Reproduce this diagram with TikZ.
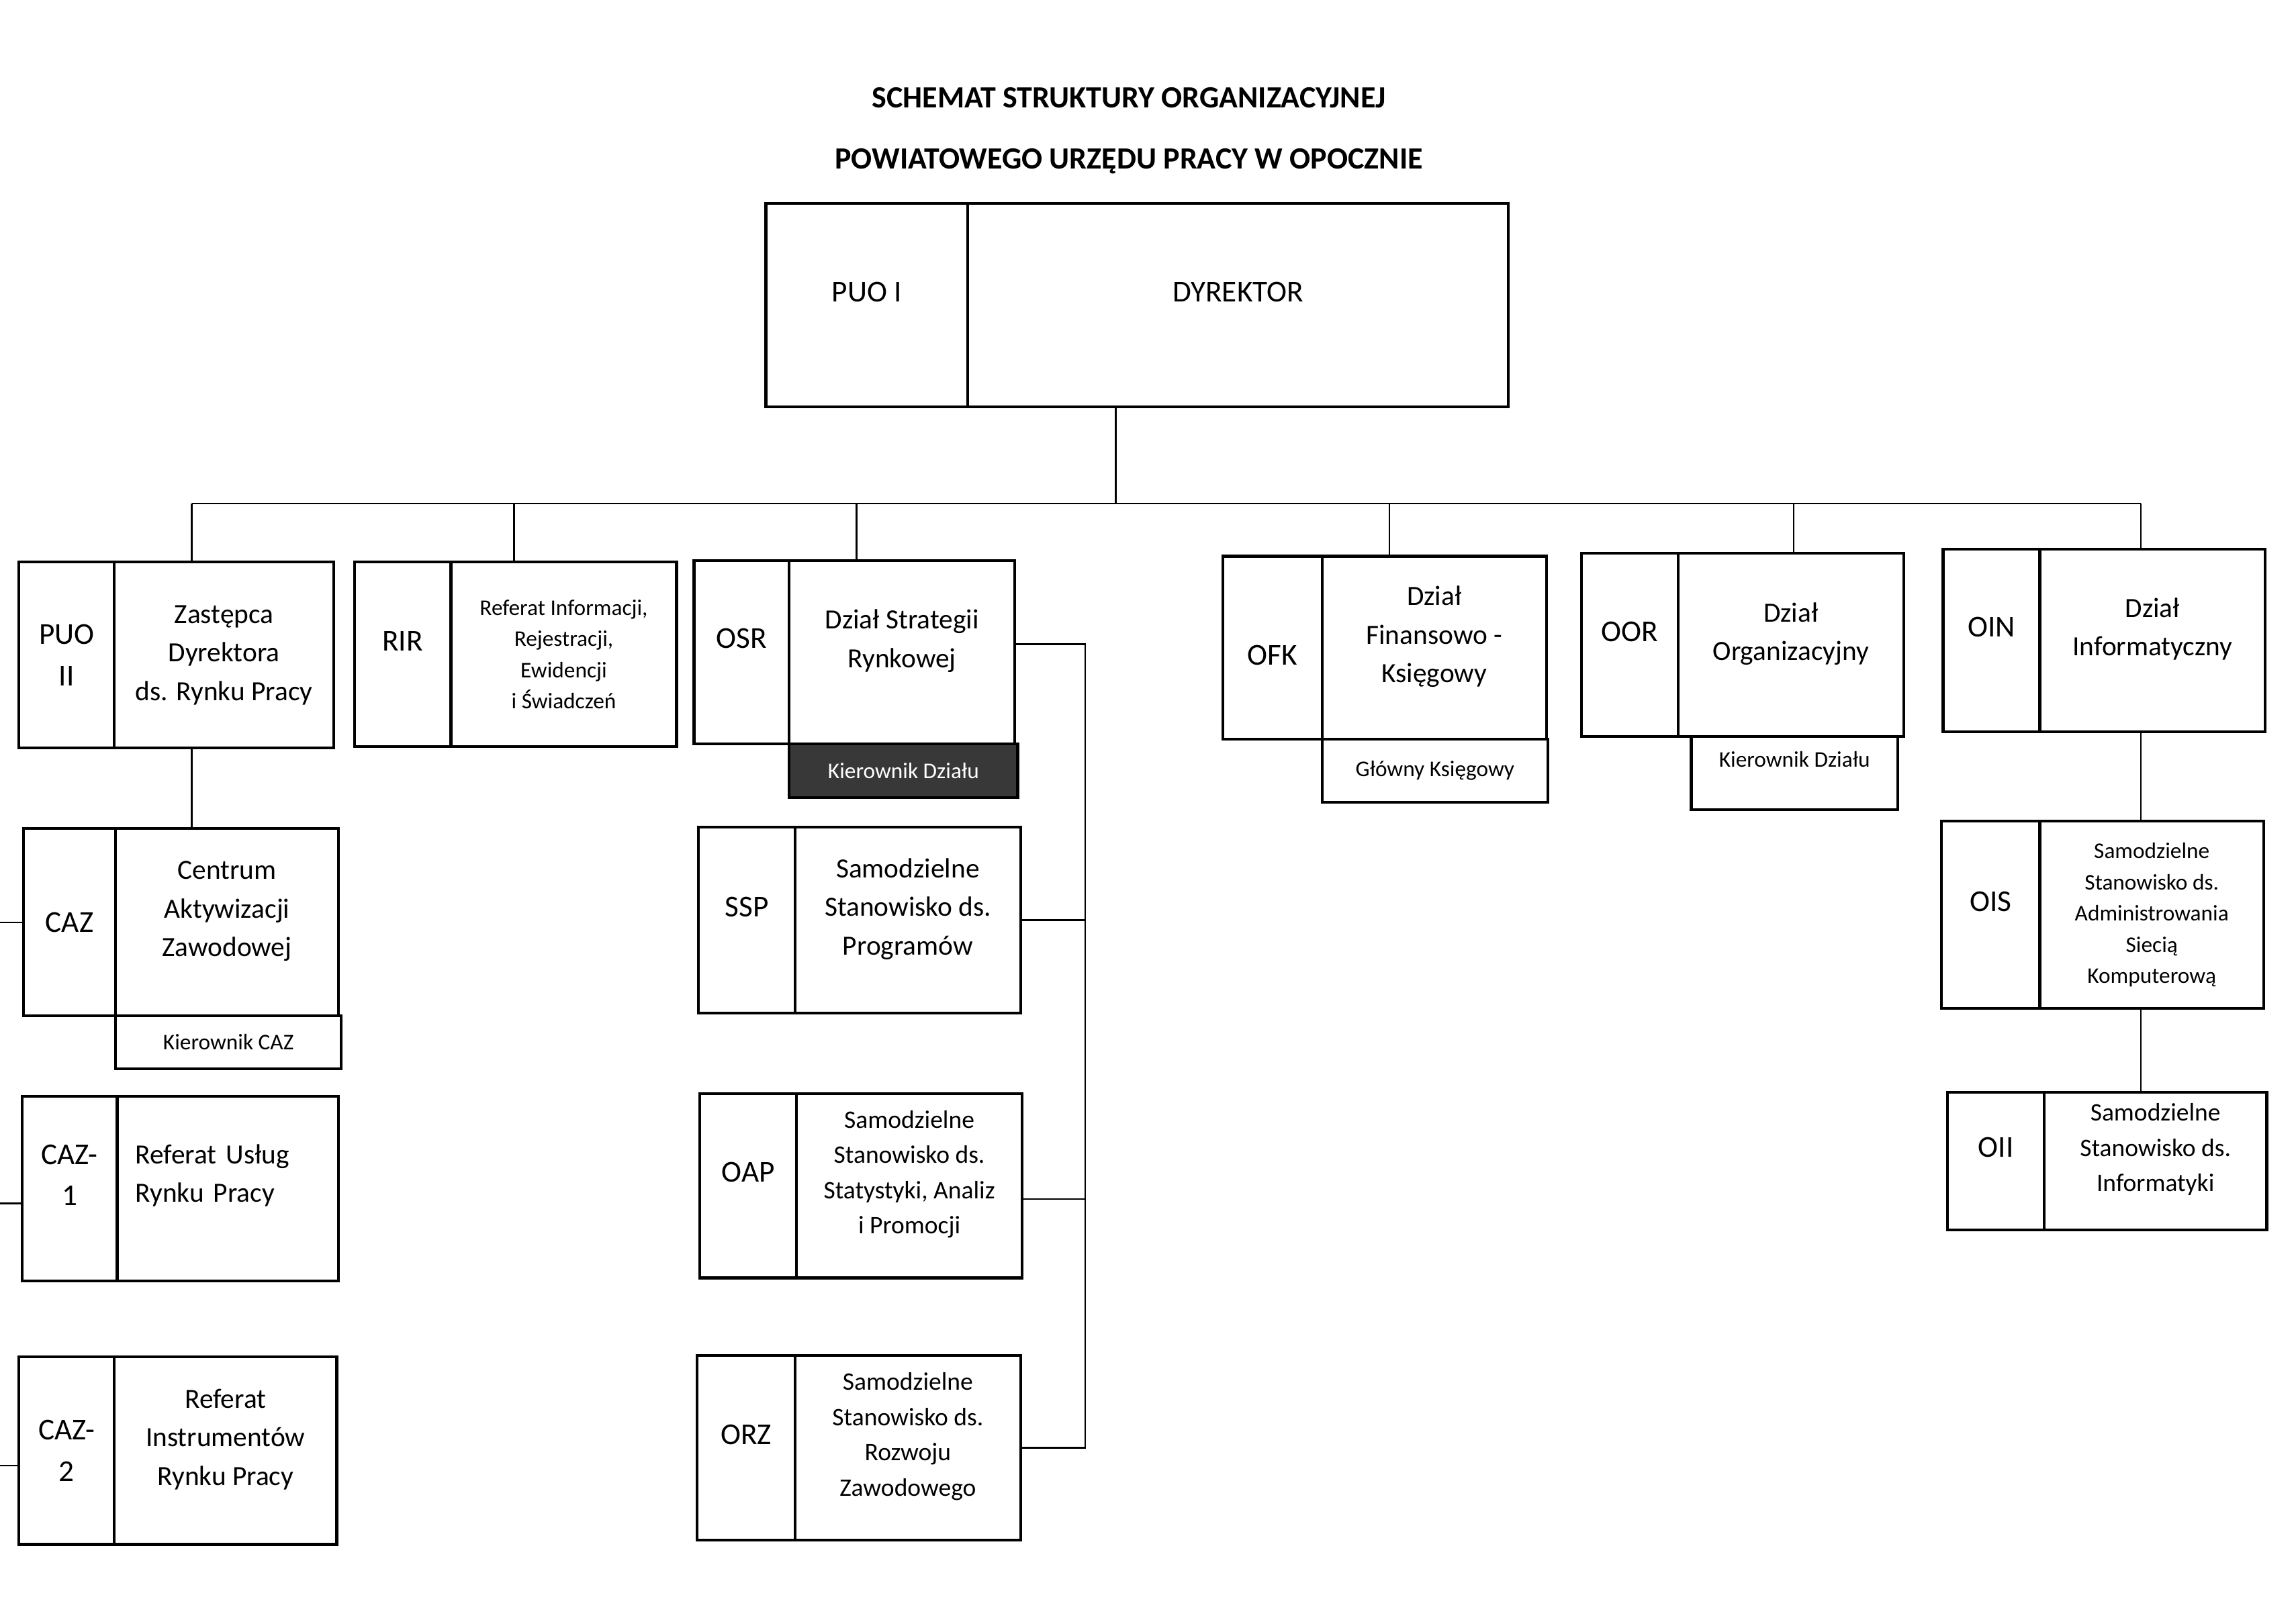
\documentclass[tikz,border=0pt]{standalone}
\usepackage{fontspec}
\setmainfont{Carlito}
\usetikzlibrary{positioning}
\newcommand{\jd}{0.02cm}
\tikzset{
  kom/.style 2 args={draw, line width=1.1pt, inner sep=0pt, outer sep=0pt, align=center,
    anchor=north west, minimum width=#1*\jd, minimum height=#2*\jd,
    font=\fontsize{10.8}{15}\selectfont},
  kod/.style={font=\fontsize{11.8}{16}\selectfont},
  maly/.style={font=\fontsize{8.7}{12.1}\selectfont},
  sredni/.style={font=\fontsize{9.8}{13.7}\selectfont},
  gora/.style={text depth=10.5pt},
  ciemny/.style={fill=black!78, text=white},
  linia/.style={line width=0.6pt},
  tytul/.style={font=\bfseries\fontsize{12}{14}\selectfont}
}
\begin{document}
\begin{tikzpicture}[x=0.02cm, y=-0.02cm]
        \useasboundingbox (0,0) rectangle (1568,1108);

        %%%%%%%%%% Tytul %%%%%%%%%%
        \node[tytul] (tyt1) at (771,67) {SCHEMAT STRUKTURY ORGANIZACYJNEJ};
        \node[tytul] (tyt2) at (771,110) {POWIATOWEGO URZĘDU PRACY W OPOCZNIE};

        %%%%%%%%%% Komorki %%%%%%%%%%
        \node[kom={138}{139}, kod, gora] (puoi) at (523,139) {PUO I};
        \node[kom={369}{139}, kod, gora, right=0pt of puoi] (dyr) {DYREKTOR};

        \node[kom={65}{127}, kod] (puo2) at (13,384) {PUO\\II};
        \node[kom={150}{127}, right=0pt of puo2] (zdr) {Zastępca\\Dyrektora\\ds. Rynku Pracy};
        \node[kom={66}{126}, kod, gora] (rir) at (242,384) {RIR};
        \node[kom={154}{126}, maly, right=0pt of rir] (rie) {Referat Informacji,\\Rejestracji,\\Ewidencji\\i Świadczeń};
        \node[kom={65}{125}, kod, gora] (osr) at (474,383) {OSR};
        \node[kom={154}{125}, gora, right=0pt of osr] (dsr) {Dział Strategii\\Rynkowej};
        \node[kom={156}{37}, maly, ciemny, below right=0pt of dsr.south west] (kdsr) {Kierownik Działu};
        \node[kom={68}{125}, kod, text height=13.5pt] (ofk) at (835,380) {OFK};
        \node[kom={153}{125}, gora, right=0pt of ofk] (dfk) {Dział\\Finansowo -\\Księgowy};
        \node[kom={154}{43}, maly, below right=0pt of dfk.south west] (gks) {Główny Księgowy};
        \node[kom={66}{125}, kod, gora] (oor) at (1080,378) {OOR};
        \node[kom={154}{125}, gora, right=0pt of oor] (dor) {Dział\\Organizacyjny};
        \node[kom={141}{50}, maly, gora] (kdor) at (1155,503) {Kierownik Działu};
        \node[kom={66}{125}, kod, gora] (oin) at (1327,375) {OIN};
        \node[kom={154}{125}, gora, right=0pt of oin] (din) {Dział\\Informatyczny};

        \node[kom={63}{128}, kod] (caz) at (16,566) {CAZ};
        \node[kom={152}{128}, gora, right=0pt of caz] (cak) {Centrum\\Aktywizacji\\Zawodowej};
        \node[kom={154}{36}, maly, below right=0pt of cak.south west] (kcaz) {Kierownik CAZ};
        \node[kom={65}{126}, kod, gora] (caz1) at (15,749) {CAZ-\\1};
        \node[kom={151}{126}, text depth=27pt, text width=2.52cm, align=left, right=0pt of caz1] (rur) {Referat Usług\\Rynku Pracy};
        \node[kom={65}{128}, kod] (caz2) at (13,927) {CAZ-\\2};
        \node[kom={152}{128}, gora, right=0pt of caz2] (rip) {Referat\\Instrumentów\\Rynku Pracy};

        \node[kom={66}{127}, kod, gora] (ssp) at (477,565) {SSP};
        \node[kom={154}{127}, gora, right=0pt of ssp] (spr) {Samodzielne\\Stanowisko ds.\\Programów};
        \node[kom={66}{126}, kod, gora] (oap) at (478,747) {OAP};
        \node[kom={154}{126}, sredni, gora, right=0pt of oap] (sap) {Samodzielne\\Stanowisko ds.\\Statystyki, Analiz\\i Promocji};
        \node[kom={67}{126}, kod, gora] (orz) at (476,926) {ORZ};
        \node[kom={154}{126}, sredni, gora, right=0pt of orz] (srz) {Samodzielne\\Stanowisko ds.\\Rozwoju\\Zawodowego};

        \node[kom={67}{128}, kod, gora] (ois) at (1326,561) {OIS};
        \node[kom={153}{128}, maly, right=0pt of ois] (sis) {Samodzielne\\Stanowisko ds.\\Administrowania\\Siecią\\Komputerową};
        \node[kom={66}{94}, kod, gora] (oii) at (1330,746) {OII};
        \node[kom={152}{94}, sredni, gora, right=0pt of oii] (sii) {Samodzielne\\Stanowisko ds.\\Informatyki};

        %%%%%%%%% Linie %%%%%%%%%
        \coordinate (szyna) at (762,344);
        \coordinate (b1) at (131,344);
        \coordinate (b2) at (351,344);
        \coordinate (b3) at (585,344);
        \coordinate (b4) at (949,344);
        \coordinate (b5) at (1225,344);
        \coordinate (b6) at (1462,344);
        \coordinate (pion) at (741,440);
        \coordinate (brzeg) at (0,0);

        \draw[linia] (dyr.south -| szyna) -- (szyna);
        \draw[linia] (b1) -- (b6);
        \draw[linia] (b1) -- (b1 |- zdr.north);
        \draw[linia] (b2) -- (b2 |- rie.north);
        \draw[linia] (b3) -- (b3 |- dsr.north);
        \draw[linia] (b4) -- (b4 |- dfk.north);
        \draw[linia] (b5) -- (b5 |- dor.north);
        \draw[linia] (b6) -- (b6 |- din.north);

        \draw[linia] (b1 |- zdr.south) -- (b1 |- cak.north);
        \draw[linia] (caz.west) -- (caz.west -| brzeg);
        \draw[linia] ([yshift=-0.2cm]caz1.west) -- ([yshift=-0.2cm]caz1.west -| brzeg);
        \draw[linia] ([yshift=-0.2cm]caz2.west) -- ([yshift=-0.2cm]caz2.west -| brzeg);

        \draw[linia] (dsr.east |- pion) -- (pion) -- (pion |- srz.east) -- (srz.east);
        \draw[linia] (spr.east) -- (spr.east -| pion);
        \draw[linia] ([yshift=-0.18cm]sap.east) -- ([yshift=-0.18cm]sap.east -| pion);

        \draw[linia] (b6 |- din.south) -- (b6 |- sis.north);
        \draw[linia] (b6 |- sis.south) -- (b6 |- sii.north);
    \end{tikzpicture}
\end{document}
